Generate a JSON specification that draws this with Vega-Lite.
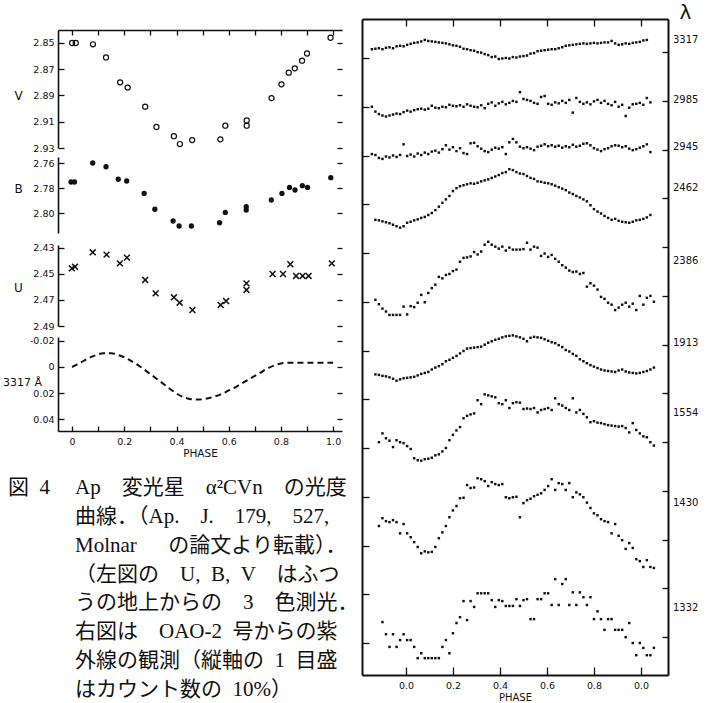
{
 "$schema": "https://vega.github.io/schema/vega-lite/v6.json",
 "width": 708, "height": 703, "autosize": "none", "padding": 0,
 "background": "white",
 "config": {"view": {"stroke": null}, "axis": {"grid": false, "domainColor": "#111", "tickColor": "#111", "labelColor": "#111", "titleColor": "#111", "labelFont": "DejaVu Sans", "titleFont": "DejaVu Sans", "labelFontSize": 9.5, "titleFontSize": 11, "titleFontWeight": "normal", "labelOverlap": false, "labelFlush": false, "labelBound": false, "domainWidth": 1.6, "tickWidth": 1.3}},
 "datasets": {
  "V": [{"phase":0.0,"mag":2.850},{"phase":0.014,"mag":2.850},{"phase":0.08,"mag":2.851},{"phase":0.13,"mag":2.861},{"phase":0.184,"mag":2.880},{"phase":0.213,"mag":2.884},{"phase":0.28,"mag":2.8985},{"phase":0.323,"mag":2.914},{"phase":0.39,"mag":2.921},{"phase":0.413,"mag":2.927},{"phase":0.46,"mag":2.924},{"phase":0.568,"mag":2.9234},{"phase":0.587,"mag":2.913},{"phase":0.669,"mag":2.909},{"phase":0.669,"mag":2.913},{"phase":0.764,"mag":2.892},{"phase":0.802,"mag":2.8815},{"phase":0.83,"mag":2.8726},{"phase":0.853,"mag":2.8693},{"phase":0.881,"mag":2.8635},{"phase":0.9,"mag":2.858},{"phase":0.99,"mag":2.846}],
  "B": [{"phase":-0.004,"mag":2.7752},{"phase":0.009,"mag":2.7752},{"phase":0.079,"mag":2.760},{"phase":0.13,"mag":2.763},{"phase":0.177,"mag":2.773},{"phase":0.209,"mag":2.7744},{"phase":0.276,"mag":2.7843},{"phase":0.317,"mag":2.797},{"phase":0.387,"mag":2.8064},{"phase":0.41,"mag":2.8104},{"phase":0.457,"mag":2.8104},{"phase":0.565,"mag":2.8078},{"phase":0.587,"mag":2.7995},{"phase":0.667,"mag":2.795},{"phase":0.667,"mag":2.7976},{"phase":0.763,"mag":2.7896},{"phase":0.804,"mag":2.7843},{"phase":0.833,"mag":2.7795},{"phase":0.854,"mag":2.7816},{"phase":0.882,"mag":2.7781},{"phase":0.902,"mag":2.7795},{"phase":0.991,"mag":2.7717}],
  "U": [{"phase":-0.001,"mag":2.4456},{"phase":0.011,"mag":2.4444},{"phase":0.079,"mag":2.4333},{"phase":0.132,"mag":2.4351},{"phase":0.183,"mag":2.4418},{"phase":0.21,"mag":2.4374},{"phase":0.28,"mag":2.4546},{"phase":0.32,"mag":2.4649},{"phase":0.39,"mag":2.4679},{"phase":0.412,"mag":2.4721},{"phase":0.461,"mag":2.4777},{"phase":0.569,"mag":2.4738},{"phase":0.59,"mag":2.4708},{"phase":0.668,"mag":2.4572},{"phase":0.668,"mag":2.4623},{"phase":0.768,"mag":2.45},{"phase":0.808,"mag":2.45},{"phase":0.836,"mag":2.4425},{"phase":0.858,"mag":2.4515},{"phase":0.883,"mag":2.4515},{"phase":0.906,"mag":2.4515},{"phase":0.995,"mag":2.4418}],
  "D3317": [{"phase":0,"dm":0},{"phase":0.03,"dm":-0.003},{"phase":0.06,"dm":-0.0065},{"phase":0.09,"dm":-0.009},{"phase":0.12,"dm":-0.0105},{"phase":0.15,"dm":-0.0105},{"phase":0.18,"dm":-0.009},{"phase":0.21,"dm":-0.0065},{"phase":0.24,"dm":-0.003},{"phase":0.27,"dm":0.001},{"phase":0.3,"dm":0.0055},{"phase":0.33,"dm":0.01},{"phase":0.36,"dm":0.0145},{"phase":0.39,"dm":0.019},{"phase":0.42,"dm":0.0225},{"phase":0.45,"dm":0.0245},{"phase":0.48,"dm":0.025},{"phase":0.51,"dm":0.0245},{"phase":0.54,"dm":0.023},{"phase":0.57,"dm":0.021},{"phase":0.6,"dm":0.018},{"phase":0.63,"dm":0.015},{"phase":0.66,"dm":0.0115},{"phase":0.69,"dm":0.008},{"phase":0.72,"dm":0.0045},{"phase":0.75,"dm":0.001},{"phase":0.78,"dm":-0.0015},{"phase":0.81,"dm":-0.003},{"phase":0.85,"dm":-0.0033},{"phase":0.9,"dm":-0.0033},{"phase":0.95,"dm":-0.0033},{"phase":1.0,"dm":-0.0033}],
  "uv": [
   {"p":-0.145,"L3317":12.18,"L2985":11.00,"L2945":10.03,"L2462":null,"L2386":null,"L1913":null,"L1554":null,"L1430":null,"L1332":null},
   {"p":-0.13,"L3317":12.19,"L2985":10.90,"L2945":10.01,"L2462":8.68,"L2386":7.04,"L1913":5.51,"L1554":null,"L1430":null,"L1332":null},
   {"p":-0.115,"L3317":12.20,"L2985":10.85,"L2945":9.95,"L2462":8.67,"L2386":6.95,"L1913":5.50,"L1554":4.12,"L1430":2.40,"L1332":null},
   {"p":-0.1,"L3317":12.18,"L2985":10.82,"L2945":9.93,"L2462":8.65,"L2386":6.86,"L1913":5.48,"L1554":4.30,"L1430":2.56,"L1332":0.43},
   {"p":-0.085,"L3317":12.21,"L2985":10.80,"L2945":9.98,"L2462":8.63,"L2386":6.80,"L1913":5.47,"L1554":4.20,"L1430":2.50,"L1332":0.18},
   {"p":-0.07,"L3317":12.22,"L2985":10.82,"L2945":9.96,"L2462":8.61,"L2386":6.73,"L1913":5.45,"L1554":4.15,"L1430":2.48,"L1332":-0.08},
   {"p":-0.055,"L3317":12.20,"L2985":10.84,"L2945":10.00,"L2462":8.58,"L2386":6.73,"L1913":5.42,"L1554":4.02,"L1430":2.52,"L1332":0.18},
   {"p":-0.04,"L3317":12.24,"L2985":10.86,"L2945":9.97,"L2462":8.55,"L2386":6.73,"L1913":5.38,"L1554":4.16,"L1430":2.48,"L1332":-0.08},
   {"p":-0.025,"L3317":12.25,"L2985":10.85,"L2945":10.01,"L2462":8.52,"L2386":6.73,"L1913":5.41,"L1554":4.12,"L1430":2.25,"L1332":0.06},
   {"p":-0.01,"L3317":12.24,"L2985":10.89,"L2945":10.23,"L2462":8.55,"L2386":6.90,"L1913":5.43,"L1554":4.10,"L1430":2.44,"L1332":0.18},
   {"p":0.005,"L3317":12.27,"L2985":10.92,"L2945":9.99,"L2462":8.62,"L2386":6.74,"L1913":5.44,"L1554":4.04,"L1430":2.25,"L1332":0.06},
   {"p":0.02,"L3317":12.29,"L2985":10.90,"L2945":10.02,"L2462":8.64,"L2386":6.91,"L1913":5.45,"L1554":3.98,"L1430":2.17,"L1332":0.06},
   {"p":0.035,"L3317":12.31,"L2985":10.93,"L2945":9.98,"L2462":8.67,"L2386":6.89,"L1913":5.46,"L1554":3.79,"L1430":2.07,"L1332":-0.08},
   {"p":0.05,"L3317":12.32,"L2985":10.95,"L2945":10.04,"L2462":8.69,"L2386":6.98,"L1913":5.49,"L1554":3.75,"L1430":1.97,"L1332":-0.31},
   {"p":0.065,"L3317":12.34,"L2985":10.96,"L2945":10.01,"L2462":8.72,"L2386":7.14,"L1913":5.52,"L1554":3.74,"L1430":1.84,"L1332":-0.21},
   {"p":0.08,"L3317":12.37,"L2985":10.94,"L2945":10.06,"L2462":8.74,"L2386":6.99,"L1913":5.54,"L1554":3.77,"L1430":1.88,"L1332":-0.31},
   {"p":0.095,"L3317":12.35,"L2985":10.96,"L2945":10.03,"L2462":8.78,"L2386":7.18,"L1913":5.56,"L1554":3.78,"L1430":1.86,"L1332":-0.31},
   {"p":0.11,"L3317":12.34,"L2985":11.02,"L2945":10.08,"L2462":8.82,"L2386":7.28,"L1913":5.61,"L1554":3.80,"L1430":1.87,"L1332":-0.31},
   {"p":0.125,"L3317":12.33,"L2985":10.98,"L2945":10.10,"L2462":8.88,"L2386":7.35,"L1913":5.65,"L1554":3.85,"L1430":1.97,"L1332":-0.31},
   {"p":0.14,"L3317":12.32,"L2985":10.97,"L2945":10.06,"L2462":8.95,"L2386":7.51,"L1913":5.68,"L1554":3.87,"L1430":2.15,"L1332":-0.31},
   {"p":0.155,"L3317":12.31,"L2985":11.00,"L2945":10.13,"L2462":9.03,"L2386":7.48,"L1913":5.72,"L1554":3.93,"L1430":2.27,"L1332":-0.08},
   {"p":0.17,"L3317":12.30,"L2985":10.99,"L2945":10.21,"L2462":9.10,"L2386":7.55,"L1913":5.78,"L1554":4.00,"L1430":2.40,"L1332":0.06},
   {"p":0.185,"L3317":12.28,"L2985":11.04,"L2945":10.12,"L2462":9.17,"L2386":7.57,"L1913":5.81,"L1554":4.16,"L1430":2.58,"L1332":-0.21},
   {"p":0.2,"L3317":12.26,"L2985":11.02,"L2945":10.17,"L2462":9.27,"L2386":7.63,"L1913":5.85,"L1554":4.27,"L1430":2.72,"L1332":0.20},
   {"p":0.215,"L3317":12.25,"L2985":11.01,"L2945":10.09,"L2462":9.33,"L2386":7.66,"L1913":5.89,"L1554":4.36,"L1430":2.81,"L1332":0.41},
   {"p":0.23,"L3317":12.23,"L2985":11.03,"L2945":10.15,"L2462":9.37,"L2386":7.82,"L1913":5.94,"L1554":4.43,"L1430":2.97,"L1332":0.53},
   {"p":0.245,"L3317":12.19,"L2985":11.00,"L2945":10.05,"L2462":9.39,"L2386":7.90,"L1913":5.99,"L1554":4.61,"L1430":2.98,"L1332":0.86},
   {"p":0.26,"L3317":12.18,"L2985":11.05,"L2945":10.03,"L2462":9.41,"L2386":7.91,"L1913":6.04,"L1554":4.66,"L1430":3.24,"L1332":0.47},
   {"p":0.275,"L3317":12.16,"L2985":11.02,"L2945":10.25,"L2462":9.43,"L2386":7.93,"L1913":6.05,"L1554":4.69,"L1430":3.18,"L1332":0.86},
   {"p":0.29,"L3317":12.15,"L2985":11.00,"L2945":10.26,"L2462":9.42,"L2386":8.02,"L1913":6.06,"L1554":4.71,"L1430":3.19,"L1332":0.74},
   {"p":0.305,"L3317":12.12,"L2985":10.99,"L2945":10.19,"L2462":9.44,"L2386":7.97,"L1913":6.07,"L1554":4.98,"L1430":3.38,"L1332":1.02},
   {"p":0.32,"L3317":12.11,"L2985":11.03,"L2945":10.14,"L2462":9.47,"L2386":8.03,"L1913":6.08,"L1554":4.90,"L1430":3.36,"L1332":1.02},
   {"p":0.335,"L3317":12.08,"L2985":10.97,"L2945":10.09,"L2462":9.49,"L2386":8.17,"L1913":6.12,"L1554":5.10,"L1430":3.32,"L1332":1.02},
   {"p":0.35,"L3317":12.06,"L2985":11.06,"L2945":10.07,"L2462":9.51,"L2386":8.23,"L1913":6.16,"L1554":5.08,"L1430":3.22,"L1332":1.02},
   {"p":0.365,"L3317":12.02,"L2985":11.09,"L2945":10.12,"L2462":9.54,"L2386":8.17,"L1913":6.19,"L1554":5.06,"L1430":3.30,"L1332":0.88},
   {"p":0.38,"L3317":12.03,"L2985":11.02,"L2945":10.16,"L2462":9.57,"L2386":8.13,"L1913":6.22,"L1554":5.04,"L1430":3.26,"L1332":0.74},
   {"p":0.395,"L3317":11.98,"L2985":11.07,"L2945":10.14,"L2462":9.60,"L2386":8.09,"L1913":6.24,"L1554":4.92,"L1430":3.24,"L1332":0.88},
   {"p":0.41,"L3317":11.99,"L2985":11.10,"L2945":10.17,"L2462":9.64,"L2386":8.13,"L1913":6.27,"L1554":4.90,"L1430":3.26,"L1332":0.86},
   {"p":0.425,"L3317":12.00,"L2985":11.05,"L2945":10.03,"L2462":9.66,"L2386":8.05,"L1913":6.29,"L1554":4.98,"L1430":2.99,"L1332":0.76},
   {"p":0.44,"L3317":11.99,"L2985":11.08,"L2945":10.27,"L2462":9.72,"L2386":8.11,"L1913":6.30,"L1554":4.82,"L1430":2.97,"L1332":0.76},
   {"p":0.455,"L3317":12.02,"L2985":11.12,"L2945":10.34,"L2462":9.70,"L2386":8.07,"L1913":6.31,"L1554":4.92,"L1430":2.99,"L1332":0.76},
   {"p":0.47,"L3317":12.01,"L2985":11.10,"L2945":10.27,"L2462":9.66,"L2386":8.07,"L1913":6.29,"L1554":4.94,"L1430":3.00,"L1332":0.90},
   {"p":0.485,"L3317":12.03,"L2985":11.30,"L2945":10.18,"L2462":9.63,"L2386":8.07,"L1913":6.27,"L1554":4.93,"L1430":2.58,"L1332":0.76},
   {"p":0.5,"L3317":12.04,"L2985":11.16,"L2945":10.15,"L2462":9.62,"L2386":8.08,"L1913":6.24,"L1554":4.80,"L1430":2.87,"L1332":0.88},
   {"p":0.515,"L3317":12.05,"L2985":11.14,"L2945":10.17,"L2462":9.58,"L2386":8.21,"L1913":6.19,"L1554":4.81,"L1430":2.93,"L1332":0.90},
   {"p":0.53,"L3317":12.09,"L2985":11.12,"L2945":10.14,"L2462":9.54,"L2386":8.07,"L1913":6.26,"L1554":4.80,"L1430":2.96,"L1332":0.49},
   {"p":0.545,"L3317":12.10,"L2985":11.08,"L2945":10.11,"L2462":9.52,"L2386":8.13,"L1913":6.28,"L1554":4.82,"L1430":3.01,"L1332":0.49},
   {"p":0.56,"L3317":12.14,"L2985":11.06,"L2945":10.18,"L2462":9.47,"L2386":8.11,"L1913":6.27,"L1554":4.73,"L1430":3.04,"L1332":0.90},
   {"p":0.575,"L3317":12.15,"L2985":11.20,"L2945":10.20,"L2462":9.46,"L2386":7.94,"L1913":6.26,"L1554":4.78,"L1430":3.07,"L1332":0.90},
   {"p":0.59,"L3317":12.16,"L2985":11.22,"L2945":10.23,"L2462":9.44,"L2386":7.99,"L1913":6.23,"L1554":4.80,"L1430":3.14,"L1332":1.02},
   {"p":0.605,"L3317":12.17,"L2985":11.06,"L2945":10.19,"L2462":9.43,"L2386":7.92,"L1913":6.20,"L1554":4.82,"L1430":3.22,"L1332":1.02},
   {"p":0.62,"L3317":12.18,"L2985":11.04,"L2945":10.21,"L2462":9.41,"L2386":7.96,"L1913":6.17,"L1554":4.78,"L1430":3.36,"L1332":0.78},
   {"p":0.635,"L3317":12.18,"L2985":11.09,"L2945":10.18,"L2462":9.38,"L2386":7.88,"L1913":6.15,"L1554":5.02,"L1430":3.14,"L1332":1.31},
   {"p":0.65,"L3317":12.20,"L2985":11.07,"L2945":10.20,"L2462":9.35,"L2386":7.82,"L1913":6.11,"L1554":4.90,"L1430":3.28,"L1332":0.78},
   {"p":0.665,"L3317":12.22,"L2985":11.12,"L2945":10.16,"L2462":9.32,"L2386":7.75,"L1913":6.07,"L1554":4.87,"L1430":3.26,"L1332":1.21},
   {"p":0.68,"L3317":12.25,"L2985":11.08,"L2945":10.19,"L2462":9.29,"L2386":7.70,"L1913":6.01,"L1554":4.82,"L1430":3.14,"L1332":1.31},
   {"p":0.695,"L3317":12.26,"L2985":11.14,"L2945":10.17,"L2462":9.24,"L2386":7.64,"L1913":5.98,"L1554":4.78,"L1430":3.28,"L1332":0.78},
   {"p":0.71,"L3317":12.27,"L2985":10.88,"L2945":10.22,"L2462":9.21,"L2386":7.61,"L1913":5.93,"L1554":5.02,"L1430":2.99,"L1332":1.04},
   {"p":0.725,"L3317":12.28,"L2985":11.18,"L2945":10.18,"L2462":9.17,"L2386":7.62,"L1913":5.89,"L1554":4.73,"L1430":3.09,"L1332":0.78},
   {"p":0.74,"L3317":12.29,"L2985":11.10,"L2945":10.20,"L2462":9.14,"L2386":7.57,"L1913":5.82,"L1554":4.78,"L1430":3.05,"L1332":1.04},
   {"p":0.755,"L3317":12.30,"L2985":11.06,"L2945":10.24,"L2462":9.10,"L2386":7.59,"L1913":5.78,"L1554":4.70,"L1430":2.99,"L1332":0.94},
   {"p":0.77,"L3317":12.29,"L2985":11.09,"L2945":10.25,"L2462":9.06,"L2386":7.31,"L1913":5.74,"L1554":4.63,"L1430":2.88,"L1332":0.78},
   {"p":0.785,"L3317":12.30,"L2985":11.05,"L2945":10.21,"L2462":8.98,"L2386":7.38,"L1913":5.70,"L1554":4.53,"L1430":2.77,"L1332":0.94},
   {"p":0.8,"L3317":12.31,"L2985":11.11,"L2945":10.15,"L2462":8.90,"L2386":7.33,"L1913":5.67,"L1554":4.55,"L1430":2.66,"L1332":0.49},
   {"p":0.815,"L3317":12.30,"L2985":11.14,"L2945":10.12,"L2462":8.85,"L2386":7.25,"L1913":5.64,"L1554":4.52,"L1430":2.62,"L1332":0.65},
   {"p":0.83,"L3317":12.31,"L2985":11.08,"L2945":10.09,"L2462":8.81,"L2386":7.10,"L1913":5.61,"L1554":4.51,"L1430":2.54,"L1332":0.49},
   {"p":0.845,"L3317":12.32,"L2985":11.12,"L2945":10.13,"L2462":8.76,"L2386":7.06,"L1913":5.59,"L1554":4.49,"L1430":2.50,"L1332":0.27},
   {"p":0.86,"L3317":12.32,"L2985":11.06,"L2945":10.15,"L2462":8.72,"L2386":6.98,"L1913":5.58,"L1554":4.47,"L1430":2.48,"L1332":0.49},
   {"p":0.875,"L3317":12.35,"L2985":11.03,"L2945":10.19,"L2462":8.68,"L2386":6.94,"L1913":5.57,"L1554":4.46,"L1430":2.25,"L1332":0.49},
   {"p":0.89,"L3317":12.30,"L2985":11.10,"L2945":10.21,"L2462":8.70,"L2386":6.83,"L1913":5.56,"L1554":4.45,"L1430":2.44,"L1332":0.27},
   {"p":0.905,"L3317":12.27,"L2985":11.00,"L2945":10.20,"L2462":8.66,"L2386":6.88,"L1913":5.59,"L1554":4.44,"L1430":2.20,"L1332":0.27},
   {"p":0.92,"L3317":12.28,"L2985":11.04,"L2945":10.17,"L2462":8.64,"L2386":6.94,"L1913":5.61,"L1554":4.45,"L1430":2.11,"L1332":0.27},
   {"p":0.935,"L3317":12.30,"L2985":10.81,"L2945":10.19,"L2462":8.63,"L2386":6.98,"L1913":5.57,"L1554":4.41,"L1430":1.93,"L1332":0.12},
   {"p":0.95,"L3317":12.29,"L2985":10.98,"L2945":10.14,"L2462":8.62,"L2386":6.90,"L1913":5.55,"L1554":4.32,"L1430":2.05,"L1332":0.41},
   {"p":0.965,"L3317":12.31,"L2985":11.05,"L2945":10.11,"L2462":8.64,"L2386":6.96,"L1913":5.54,"L1554":4.51,"L1430":1.95,"L1332":0.00},
   {"p":0.98,"L3317":12.32,"L2985":11.06,"L2945":10.13,"L2462":8.67,"L2386":6.83,"L1913":5.53,"L1554":4.37,"L1430":1.72,"L1332":-0.25},
   {"p":0.995,"L3317":12.33,"L2985":11.08,"L2945":10.16,"L2462":8.68,"L2386":7.12,"L1913":5.54,"L1554":4.30,"L1430":1.68,"L1332":0.00},
   {"p":1.01,"L3317":12.36,"L2985":11.04,"L2945":10.19,"L2462":8.70,"L2386":6.94,"L1913":5.56,"L1554":4.24,"L1430":1.56,"L1332":-0.10},
   {"p":1.025,"L3317":12.37,"L2985":11.18,"L2945":10.23,"L2462":8.73,"L2386":7.08,"L1913":5.58,"L1554":4.22,"L1430":1.70,"L1332":-0.25},
   {"p":1.04,"L3317":null,"L2985":11.09,"L2945":10.07,"L2462":8.78,"L2386":7.12,"L1913":5.61,"L1554":4.12,"L1430":1.56,"L1332":-0.25},
   {"p":1.055,"L3317":null,"L2985":null,"L2945":null,"L2462":null,"L2386":7.00,"L1913":5.65,"L1554":4.05,"L1430":1.54,"L1332":-0.10}
  ],
  "wl": [{"wl":"3317","v":12.37},{"wl":"2985","v":11.14},{"wl":"2945","v":10.17},{"wl":"2462","v":9.33},{"wl":"2386","v":7.84},{"wl":"1913","v":6.15},{"wl":"1554","v":4.72},{"wl":"1430","v":2.87},{"wl":"1332","v":0.72}],
  "cap": [
   {"line":1,"part":"num","text":"図\u20024"},
   {"line":1,"part":"body","text":"Ap\u3000変光星\u3000α²CVn\u3000の光度"},
   {"line":2,"part":"body","text":"曲線．（Ap.\u3000J.\u3000179,\u3000527,"},
   {"line":3,"part":"body","text":"Molnar\u3000\u2002の論文より転載）．"},
   {"line":4,"part":"body","text":"（左図の\u3000U,\u2002B,\u2002V\u3000はふつ"},
   {"line":5,"part":"body","text":"うの地上からの\u30003\u3000色測光．"},
   {"line":6,"part":"body","text":"右図は\u3000OAO-2\u2002号からの紫"},
   {"line":7,"part":"body","text":"外線の観測（縦軸の\u20021\u2002目盛"},
   {"line":8,"part":"body","text":"はカウント数の\u200210%）"}
  ]
 },
 "resolve": {"scale": {"x": "independent", "y": "independent"}, "axis": {"x": "independent", "y": "independent"}},
 "layer": [
  {"data": {"name": "V"},
   "mark": {"type": "point", "shape": "circle", "filled": false, "size": 26, "strokeWidth": 1.2, "color": "#111", "opacity": 1},
   "encoding": {
    "x": {"field": "phase", "type": "quantitative", "scale": {"domain": [-0.054, 1.034], "range": [58, 342], "nice": false, "zero": false},
          "axis": {"orient": "top", "offset": -30, "values": [0,0.1,0.2,0.3,0.4,0.5,0.6,0.7,0.8,0.9,1], "labels": false, "tickSize": -5, "title": null}},
    "y": {"field": "mag", "type": "quantitative", "scale": {"domain": [2.8401, 2.93], "range": [30, 148], "nice": false, "zero": false},
          "axis": {"orient": "left", "offset": -58, "values": [2.85,2.87,2.89,2.91,2.93], "format": ".2f", "tickSize": -6, "labelPadding": 10, "title": "V", "titleAngle": 0, "titleX": -40, "titleY": 95, "titleAlign": "center", "titleBaseline": "middle", "titleFontSize": 12}}
   }},
  {"data": {"name": "B"},
   "mark": {"type": "point", "shape": "circle", "filled": true, "size": 28, "color": "#111", "opacity": 1},
   "encoding": {
    "x": {"field": "phase", "type": "quantitative", "scale": {"domain": [-0.054, 1.034], "range": [58, 342], "nice": false, "zero": false}, "axis": null},
    "y": {"field": "mag", "type": "quantitative", "scale": {"domain": [2.7552, 2.816], "range": [157, 233], "nice": false, "zero": false},
          "axis": {"orient": "left", "offset": -58, "values": [2.76,2.78,2.80], "format": ".2f", "tickSize": -6, "labelPadding": 10, "title": "B", "titleAngle": 0, "titleX": -40, "titleY": 188, "titleAlign": "center", "titleBaseline": "middle", "titleFontSize": 12}}
   }},
  {"data": {"name": "U"},
   "mark": {"type": "point", "shape": "M-1,-1L1,1M-1,1L1,-1", "filled": false, "size": 34, "strokeWidth": 1.5, "color": "#111", "opacity": 1},
   "encoding": {
    "x": {"field": "phase", "type": "quantitative", "scale": {"domain": [-0.054, 1.034], "range": [58, 342], "nice": false, "zero": false}, "axis": null},
    "y": {"field": "mag", "type": "quantitative", "scale": {"domain": [2.4277, 2.49], "range": [245, 326], "nice": false, "zero": false},
          "axis": {"orient": "left", "offset": -58, "values": [2.43,2.45,2.47,2.49], "format": ".2f", "tickSize": -6, "labelPadding": 10, "title": "U", "titleAngle": 0, "titleX": -40, "titleY": 287, "titleAlign": "center", "titleBaseline": "middle", "titleFontSize": 12}}
   }},
  {"data": {"name": "D3317"},
   "mark": {"type": "line", "strokeDash": [6, 4], "strokeWidth": 2, "color": "#111", "interpolate": "monotone"},
   "encoding": {
    "x": {"field": "phase", "type": "quantitative", "scale": {"domain": [-0.054, 1.034], "range": [58, 342], "nice": false, "zero": false},
          "axis": {"orient": "bottom", "offset": -272, "values": [0,0.1,0.2,0.3,0.4,0.5,0.6,0.7,0.8,0.9,1], "labelExpr": "datum.value == 0 ? '0' : (round(datum.value*10) % 2 == 0 ? format(datum.value, '.1f') : '')", "tickSize": -5, "labelPadding": 10, "title": "PHASE", "titleY": 17, "titleBaseline": "top", "titleFontSize": 10.5}},
    "y": {"field": "dm", "type": "quantitative", "scale": {"domain": [-0.023, 0.0491], "range": [337, 431], "nice": false, "zero": false},
          "axis": {"orient": "left", "offset": -58, "values": [-0.02,0,0.02,0.04], "labelExpr": "datum.value == 0 ? '0' : (datum.value < 0 ? '-' : '') + format(abs(datum.value), '.2f')", "tickSize": -6, "labelPadding": 10, "title": "3317 Å", "titleAngle": 0, "titleX": -36, "titleY": 382, "titleAlign": "center", "titleBaseline": "middle", "titleFontSize": 11}}
   }},
  {"data": {"name": "V"},
   "mark": {"type": "point", "opacity": 0},
   "encoding": {
    "x": {"field": "phase", "type": "quantitative", "scale": {"domain": [-0.054, 1.034], "range": [58, 342], "nice": false, "zero": false}, "axis": null},
    "y": {"field": "mag", "type": "quantitative", "scale": {"domain": [2.8401, 2.93], "range": [30, 148], "nice": false, "zero": false},
          "axis": {"orient": "right", "offset": -366, "values": [2.85,2.87,2.89,2.91,2.93], "labels": false, "domain": false, "tickSize": -5, "title": null}}
   }},
  {"data": {"name": "B"},
   "mark": {"type": "point", "opacity": 0},
   "encoding": {
    "x": {"field": "phase", "type": "quantitative", "scale": {"domain": [-0.054, 1.034], "range": [58, 342], "nice": false, "zero": false}, "axis": null},
    "y": {"field": "mag", "type": "quantitative", "scale": {"domain": [2.7552, 2.816], "range": [157, 233], "nice": false, "zero": false},
          "axis": {"orient": "right", "offset": -366, "values": [2.76,2.78,2.80], "labels": false, "domain": false, "tickSize": -5, "title": null}}
   }},
  {"data": {"name": "U"},
   "mark": {"type": "point", "opacity": 0},
   "encoding": {
    "x": {"field": "phase", "type": "quantitative", "scale": {"domain": [-0.054, 1.034], "range": [58, 342], "nice": false, "zero": false}, "axis": null},
    "y": {"field": "mag", "type": "quantitative", "scale": {"domain": [2.4277, 2.49], "range": [245, 326], "nice": false, "zero": false},
          "axis": {"orient": "right", "offset": -366, "values": [2.43,2.45,2.47,2.49], "labels": false, "domain": false, "tickSize": -5, "title": null}}
   }},
  {"data": {"name": "D3317"},
   "mark": {"type": "point", "opacity": 0},
   "encoding": {
    "x": {"field": "phase", "type": "quantitative", "scale": {"domain": [-0.054, 1.034], "range": [58, 342], "nice": false, "zero": false}, "axis": null},
    "y": {"field": "dm", "type": "quantitative", "scale": {"domain": [-0.023, 0.0491], "range": [337, 431], "nice": false, "zero": false},
          "axis": {"orient": "right", "offset": -366, "values": [-0.02,0,0.02,0.04], "labels": false, "domain": false, "tickSize": -5, "title": null}}
   }},
  {"data": {"name": "uv"},
   "transform": [{"fold": ["L3317","L2985","L2945","L2462","L2386","L1913","L1554","L1430","L1332"], "as": ["curve", "v"]}, {"filter": "datum.v != null"}],
   "mark": {"type": "point", "shape": "square", "filled": true, "size": 6, "color": "#111", "opacity": 1},
   "encoding": {
    "x": {"field": "p", "type": "quantitative", "scale": {"domain": [-0.187, 1.115], "range": [362, 668], "nice": false, "zero": false},
          "axis": {"orient": "bottom", "offset": -28, "values": [0,0.2,0.4,0.6,0.8,1], "labelExpr": "datum.value == 1 ? '0.0' : format(datum.value, '.1f')", "tickSize": -8, "labelPadding": 13, "domainWidth": 2, "title": "PHASE", "titleY": 17, "titleBaseline": "top", "titleFontSize": 10}},
    "y": {"field": "v", "type": "quantitative", "scale": {"domain": [-0.656, 12.8], "range": [675, 19], "nice": false, "zero": false},
          "axis": {"orient": "left", "offset": -362, "values": [0,1,2,3,4,5,6,7,8,9,10,11,12], "labels": false, "tickSize": -7, "domainWidth": 2, "title": null}}
   }},
  {"data": {"name": "wl"},
   "mark": {"type": "text", "font": "DejaVu Sans", "fontSize": 10, "align": "center", "baseline": "middle", "color": "#111"},
   "encoding": {
    "x": {"datum": 1.19, "type": "quantitative", "scale": {"domain": [-0.187, 1.115], "range": [362, 668], "nice": false, "zero": false},
          "axis": {"orient": "top", "offset": -19, "values": [0,0.2,0.4,0.6,0.8,1], "labels": false, "tickSize": -7, "domainWidth": 2, "title": null}},
    "y": {"field": "v", "type": "quantitative", "scale": {"domain": [-0.656, 12.8], "range": [675, 19], "nice": false, "zero": false},
          "axis": {"orient": "right", "offset": -40, "values": [0.12,1.12,2.12,3.12,4.12,5.12,6.12,7.12,8.12,9.12,10.12,11.12,12.12], "labels": false, "tickSize": -6, "domainWidth": 2, "title": "λ", "titleAngle": 0, "titleX": 17, "titleY": 12, "titleFontSize": 20, "titleAlign": "center", "titleBaseline": "middle"}},
    "text": {"field": "wl"}
   }},
  {"data": {"name": "cap"},
   "mark": {"type": "text", "font": "'Liberation Serif', 'Noto Sans CJK JP'", "fontSize": 21, "align": "left", "baseline": "middle", "color": "#111"},
   "encoding": {
    "x": {"field": "part", "type": "nominal", "scale": {"type": "point", "domain": ["num", "body"], "range": [8, 75], "padding": 0}, "axis": null},
    "y": {"field": "line", "type": "quantitative", "scale": {"domain": [1, 8], "range": [488, 690], "nice": false, "zero": false}, "axis": null},
    "text": {"field": "text"}
   }}
 ]
}
